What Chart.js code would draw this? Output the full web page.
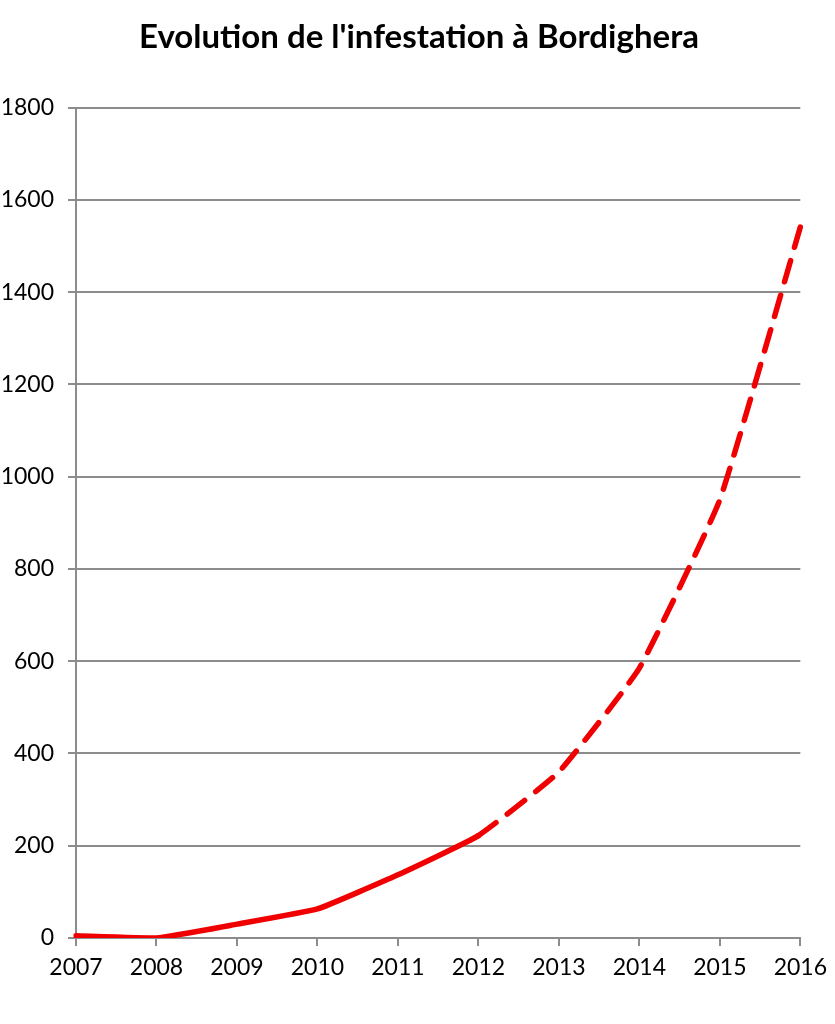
<!DOCTYPE html>
<html>
<head>
<meta charset="utf-8">
<script src="https://cdn.jsdelivr.net/npm/chart.js@4"></script>
<style>
  html, body { margin: 0; padding: 0; background: #fff; }
  #wrap { width: 835px; height: 1024px; }
</style>
</head>
<body>
<div id="wrap"><canvas id="myChart" width="835" height="1024"></canvas></div>
<script>
const years = ['2007', '2008', '2009', '2010', '2011', '2012', '2013', '2014', '2015', '2016'];
const infestation = [5, 0, 30, 63, 137, 222, 360, 585, 950, 1541];
const lastObserved = 5; // index of 2012, dashed afterwards

const red = '#f00000';
const gridGray = '#8c8c8c';
const fontFamily = 'Lato, "Open Sans", sans-serif';

// config
const config = {
    type: 'line',
    data: {
        labels: years,
        datasets: [
            {
                label: 'Infestation',
                data: infestation,
                borderColor: red,
                borderWidth: 5.5,
                pointRadius: 0,
                fill: false,
                tension: 0.12,
                borderCapStyle: 'round',
                segment: {
                    borderDash: (ctx) => (ctx.p0DataIndex >= lastObserved ? [22, 14] : undefined),
                },
            },
        ],
    },
    options: {
        responsive: false,
        animation: false,
        layout: { padding: { left: 3, right: 0, top: 0, bottom: 0 } },
        plugins: {
            legend: { display: false },
            tooltip: { enabled: false },
            title: {
                display: true,
                text: "Evolution de l'infestation à Bordighera",
                color: '#000',
                font: { family: fontFamily, size: 33, weight: 'bold' },
                padding: { top: 18, bottom: 50 },
            },
        },
        scales: {
            x: {
                offset: false,
                grid: {
                    drawOnChartArea: false,
                    drawTicks: true,
                    tickLength: 8,
                    color: gridGray,
                    lineWidth: 2,
                },
                border: { color: gridGray, width: 2 },
                ticks: {
                    color: '#000',
                    font: { family: fontFamily, size: 23 },
                    padding: 8,
                    maxRotation: 0,
                    autoSkip: false,
                },
                afterFit: (scale) => { scale.height = 86; },
            },
            y: {
                min: 0,
                max: 1800,
                grid: {
                    color: gridGray,
                    lineWidth: 2,
                    tickLength: 8,
                },
                border: { color: gridGray, width: 2 },
                ticks: {
                    stepSize: 200,
                    color: '#000',
                    font: { family: fontFamily, size: 23 },
                    padding: 14,
                    callback: (value) => String(value),
                },
                afterFit: (scale) => { scale.width = 73; },
            },
            // empty right-hand spacer so the plot ends at the same place as the reference
            spacer: {
                type: 'linear',
                position: 'right',
                grid: { display: false },
                border: { display: false },
                ticks: { display: false },
                afterFit: (scale) => { scale.width = 34; },
            },
        },
    },
};

const myChart = new Chart(document.getElementById('myChart'), config);
</script>
</body>
</html>
